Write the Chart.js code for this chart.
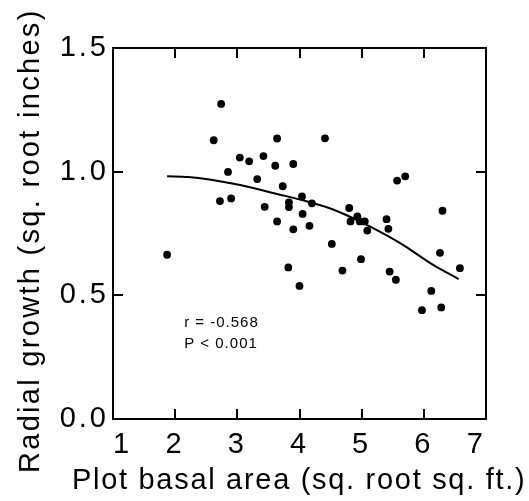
<!DOCTYPE html>
<html>
<head>
<meta charset="utf-8">
<script src="https://cdn.jsdelivr.net/npm/chart.js@4/dist/chart.umd.min.js"></script>
<style>
  html, body { margin: 0; padding: 0; background: #fff; }
  #wrap { width: 529px; height: 501px; }
</style>
</head>
<body>
<div id="wrap"><canvas id="c" width="529" height="501"></canvas></div>
<script>
// Observed data: plot basal area (x) vs radial growth (y)
const basalArea = [1.87, 2.62, 2.74, 2.72, 2.85, 2.90, 3.04, 3.19, 3.32, 3.42, 3.44, 3.61, 3.64, 3.64, 3.73,
  3.83, 3.83, 3.82, 3.90, 3.90, 4.00, 4.04, 4.05, 4.16, 4.20, 4.41, 4.52, 4.69, 4.80, 4.82, 4.93, 4.97,
  4.99, 5.05, 5.09, 5.40, 5.43, 5.45, 5.55, 5.57, 5.70, 5.97, 6.12, 6.26, 6.28, 6.30, 6.58];
const radialGrowth = [0.664, 1.127, 1.274, 0.881, 0.999, 0.892, 1.057, 1.042, 0.970, 1.063, 0.858, 1.024, 1.134, 0.799, 0.941,
  0.876, 0.857, 0.613, 1.031, 0.767, 0.538, 0.900, 0.829, 0.781, 0.872, 1.135, 0.708, 0.600, 0.853, 0.799, 0.819, 0.799,
  0.646, 0.799, 0.762, 0.808, 0.769, 0.596, 0.563, 0.964, 0.981, 0.440, 0.518, 0.672, 0.451, 0.842, 0.610];

// Fitted curve
const fitX = [1.87, 2.21, 2.94, 3.69, 4.01, 4.55, 5.08, 5.62, 6.15, 6.56];
const fitY = [0.981, 0.978, 0.951, 0.907, 0.887, 0.846, 0.785, 0.711, 0.623, 0.566];

// Axis ticks
const xTicks = [1, 2, 3, 4, 5, 6, 7];
const yTicks = [0.0, 0.5, 1.0, 1.5];

// Statistics annotation (anchored in data units: left edge / first baseline)
const statLines = ['r = -0.568', 'P < 0.001'];
const statAnchor = { x: 2.145, y: 0.3725 };

const xTitle = 'Plot basal area (sq. root sq. ft.)';
const yTitle = 'Radial growth (sq. root inches)';

const FONT = "'Liberation Sans', Arial, sans-serif";

const scatterPts = basalArea.map((x, i) => ({ x: x, y: radialGrowth[i] }));
const fitPts = fitX.map((x, i) => ({ x: x, y: fitY[i] }));

const spacingPlugin = {
  id: 'spacing',
  beforeUpdate(chart) { chart.ctx.letterSpacing = '3px'; },
  beforeDraw(chart) { chart.ctx.letterSpacing = '3px'; }
};

const framePlugin = {
  id: 'frame',
  afterDatasetsDraw(chart) {
    const ctx = chart.ctx;
    const a = chart.chartArea;
    const xs = chart.scales.x, ys = chart.scales.y;
    const L = 10;
    ctx.save();
    ctx.strokeStyle = '#000';
    ctx.lineWidth = 2;
    ctx.strokeRect(a.left, a.top, a.right - a.left, a.bottom - a.top);
    ctx.beginPath();
    xTicks.forEach(v => {
      const px = Math.round(xs.getPixelForValue(v));
      ctx.moveTo(px, a.bottom); ctx.lineTo(px, a.bottom - L);
      ctx.moveTo(px, a.top); ctx.lineTo(px, a.top + L);
    });
    yTicks.forEach(v => {
      const py = Math.round(ys.getPixelForValue(v));
      ctx.moveTo(a.left, py); ctx.lineTo(a.left + L, py);
      ctx.moveTo(a.right, py); ctx.lineTo(a.right - L, py);
    });
    ctx.stroke();

    // statistics annotation
    ctx.fillStyle = '#000';
    ctx.font = "15px " + FONT;
    ctx.letterSpacing = '1px';
    ctx.textBaseline = 'alphabetic';
    ctx.textAlign = 'left';
    const tx = xs.getPixelForValue(statAnchor.x);
    const ty = ys.getPixelForValue(statAnchor.y);
    statLines.forEach((s, i) => ctx.fillText(s, tx, ty + i * 21));

    // axis titles
    ctx.font = "29px " + FONT;
    ctx.letterSpacing = '1.7px';
    ctx.fillText(xTitle, 72, 489);
    ctx.translate(39, 473);
    ctx.rotate(-Math.PI / 2);
    ctx.letterSpacing = '2.3px';
    ctx.fillText(yTitle, 0, 0);
    ctx.restore();
  }
};

new Chart(document.getElementById('c'), {
  type: 'scatter',
  data: {
    datasets: [
      {
        label: 'observed',
        data: scatterPts,
        pointRadius: 3.9,
        pointHoverRadius: 3.9,
        pointBackgroundColor: '#000',
        pointBorderWidth: 0,
        showLine: false
      },
      {
        label: 'fit',
        data: fitPts,
        showLine: true,
        pointRadius: 0,
        borderColor: '#000',
        borderWidth: 2,
        cubicInterpolationMode: 'monotone',
        fill: false
      }
    ]
  },
  options: {
    responsive: false,
    animation: false,
    events: [],
    layout: { padding: { top: 48, right: 43, left: 0, bottom: 0 } },
    plugins: { legend: { display: false }, tooltip: { enabled: false } },
    scales: {
      x: {
        type: 'linear',
        min: 1, max: 7,
        afterFit(s) { s.height = 82; },
        afterBuildTicks(s) { s.ticks = xTicks.map(v => ({ value: v })); },
        grid: { display: false, drawTicks: false },
        border: { display: false },
        ticks: {
          color: '#000',
          padding: 9,
          maxRotation: 0,
          align: 'inner',
          font: { family: FONT, size: 29 },
          callback: v => String(v)
        },
        title: { display: false }
      },
      y: {
        type: 'linear',
        min: 0, max: 1.5,
        afterFit(s) { s.width = 113; },
        afterBuildTicks(s) { s.ticks = yTicks.map(v => ({ value: v })); },
        grid: { display: false, drawTicks: false },
        border: { display: false },
        ticks: {
          color: '#000',
          padding: 4,
          font: { family: FONT, size: 29 },
          callback: v => Number(v).toFixed(1)
        },
        title: { display: false }
      }
    }
  },
  plugins: [spacingPlugin, framePlugin]
});
</script>
</body>
</html>
